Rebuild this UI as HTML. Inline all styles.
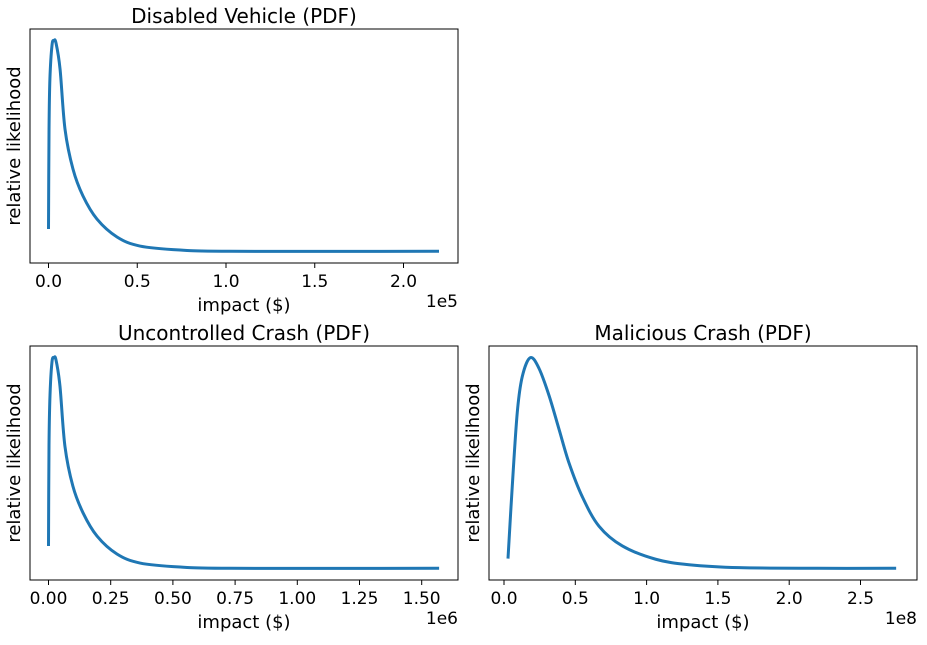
<!DOCTYPE html>
<html><head><meta charset="utf-8"><style>
body{margin:0;background:#fff;}
svg text{font-family:"DejaVu Sans","Liberation Sans",sans-serif;fill:#000;}
</style></head><body>
<svg id="fig" width="927" height="640" xmlns="http://www.w3.org/2000/svg"></svg>
<script>
const dvX=[0,0.003,0.008,0.02,0.031,0.042,0.065,0.093,0.138,0.194,0.273,0.386,0.515,0.741,1.02,2.2];
const dvY=[0.106,0.58,0.82,0.98,1.0,0.99,0.866,0.58,0.39,0.263,0.153,0.068,0.025,0.006,0,0];
const ucX=[0,0.002,0.006,0.014,0.022,0.030,0.046,0.066,0.098,0.139,0.195,0.275,0.368,0.529,0.73,1.57];
const ucY=[0.106,0.58,0.82,0.98,1.0,0.99,0.866,0.58,0.39,0.263,0.153,0.068,0.025,0.006,0,0];
const mcX=[0.028,0.058,0.093,0.128,0.184,0.245,0.316,0.386,0.456,0.549,0.666,0.83,1.064,1.297,1.65,2.2,2.75];
const mcY=[0.046,0.39,0.74,0.91,1.0,0.95,0.82,0.66,0.50,0.34,0.20,0.106,0.043,0.017,0.003,0,0];
const dvTicks=[0,0.5,1.0,1.5,2.0], dvLabels=["0.0","0.5","1.0","1.5","2.0"];
const ucTicks=[0,0.25,0.5,0.75,1.0,1.25,1.5], ucLabels=["0.00","0.25","0.50","0.75","1.00","1.25","1.50"];
const mcTicks=[0,0.5,1.0,1.5,2.0,2.5], mcLabels=["0.0","0.5","1.0","1.5","2.0","2.5"];

const NS="http://www.w3.org/2000/svg";
const svg=document.getElementById('fig');
function mk(tag,attrs,parent){const e=document.createElementNS(NS,tag);for(const k in attrs)e.setAttribute(k,attrs[k]);(parent||svg).appendChild(e);return e;}

function crPath(P){
  let d='M'+P[0][0]+','+P[0][1];
  for(let i=0;i<P.length-1;i++){
    const p0=P[Math.max(0,i-1)],p1=P[i],p2=P[i+1],p3=P[Math.min(P.length-1,i+2)];
    const c1=[p1[0]+(p2[0]-p0[0])/6,p1[1]+(p2[1]-p0[1])/6];
    const c2=[p2[0]-(p3[0]-p1[0])/6,p2[1]-(p3[1]-p1[1])/6];
    d+=' C'+c1+' '+c2+' '+p2;
  }
  return d;
}

function panel(key,box,x0,pxPerUnit,xs,ys,ticks,labels,title,offset){
  const g=mk('g',{});
  
  
  const [L,T,R,B]=box;
  const sx=v=>x0+v*pxPerUnit;
  const y1=T+0.05*(B-T), y0=B-0.05*(B-T);
  const sy=v=>y0-v*(y0-y1);
  const P=xs.map((x,i)=>[sx(x),sy(ys[i])]);
  const line=mk('path',{d:crPath(P),fill:'none',stroke:'#1f77b4','stroke-width':3,'stroke-linejoin':'round'},g);
  
  
  const frame=mk('rect',{x:L,y:T,width:R-L,height:B-T,fill:'none',stroke:'#000','stroke-width':1},g);
  
  
  ticks.forEach((t,i)=>{
    const x=sx(t);
    const tk=mk('line',{x1:x,x2:x,y1:B,y2:B+5,stroke:'#000','stroke-width':1},g);
    
    
    const tl=mk('text',{x:x,y:B+24,'text-anchor':'middle','font-size':17},g);
    tl.textContent=labels[i];
    
    
  });
  const tt=mk('text',{x:(L+R)/2,y:T-6,'text-anchor':'middle','font-size':20},g);
  tt.textContent=title;
  
  
  const xl=mk('text',{x:(L+R)/2,y:B+48,'text-anchor':'middle','font-size':18},g);
  xl.textContent='impact ($)';
  
  
  const yl=mk('text',{x:0,y:0,'text-anchor':'middle','font-size':18,transform:'translate('+(L-10)+','+((T+B)/2)+') rotate(-90)'},g);
  yl.textContent='relative likelihood';
  
  
  const ot=mk('text',{x:R,y:B+44,'text-anchor':'end','font-size':17},g);
  ot.textContent=offset;
  
  
}
panel('disabled-vehicle',[30,29,458,263],48.5,177.5,dvX,dvY,dvTicks,dvLabels,'Disabled Vehicle (PDF)','1e5');
panel('uncontrolled-crash',[30,346,458,580],48.5,248.8,ucX,ucY,ucTicks,ucLabels,'Uncontrolled Crash (PDF)','1e6');
panel('malicious-crash',[489,346,917,580],504,142.6,mcX,mcY,mcTicks,mcLabels,'Malicious Crash (PDF)','1e8');
</script>
</body></html>
